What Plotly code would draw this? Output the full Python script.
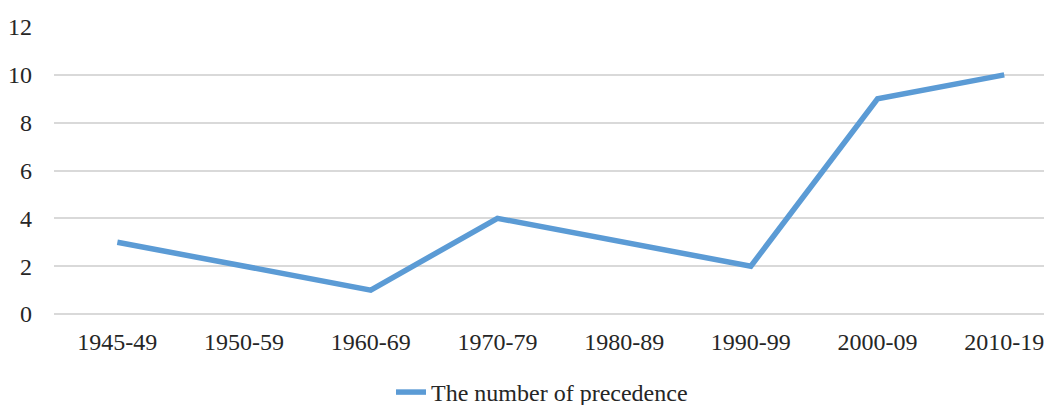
import plotly.graph_objects as go

categories = ["1945-49", "1950-59", "1960-69", "1970-79", "1980-89", "1990-99", "2000-09", "2010-19"]
values = [3, 2, 1, 4, 3, 2, 9, 10]
series_name = "The number of precedence"

fig = go.Figure()
fig.add_trace(go.Scatter(
    x=list(range(len(categories))), y=values, mode="lines", name=series_name,
    line=dict(color="#5B9BD5", width=5.5),
))

font = dict(family="Liberation Serif, Times New Roman, serif", size=24, color="#262626")
fig.update_layout(
    width=1044, height=397,
    margin=dict(l=46, r=0, t=19, b=91, autoexpand=False),
    paper_bgcolor="white", plot_bgcolor="white",
    font=font,
    showlegend=True,
    legend=dict(orientation="h", x=0.489, xanchor="center", y=-0.195, yanchor="top",
                font=font),
    xaxis=dict(
        tickmode="array", tickvals=list(range(len(categories))), ticktext=categories,
        range=[-0.5, 7.377], showgrid=False, zeroline=False, showline=False,
        ticks="", ticklabelstandoff=11, tickfont=font, automargin=False,
    ),
    yaxis=dict(
        range=[0, 12], dtick=2, tick0=0, showgrid=True, gridcolor="#D9D9D9", gridwidth=1.5,
        zeroline=True, zerolinecolor="#D9D9D9", zerolinewidth=1.5, showline=False,
        ticks="", ticklabelstandoff=21, tickfont=font, automargin=False,
    ),
)
fig.write_html("out.html")
